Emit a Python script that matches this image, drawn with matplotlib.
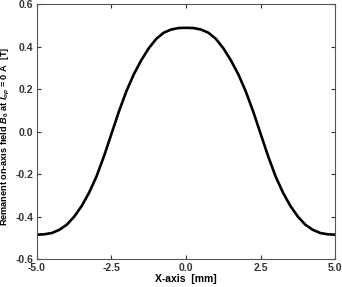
import numpy as np
import matplotlib.pyplot as plt

plt.rcParams['font.family'] = 'Liberation Sans'
plt.rcParams['mathtext.fontset'] = 'custom'
plt.rcParams['mathtext.rm'] = 'Liberation Sans:bold'
plt.rcParams['mathtext.it'] = 'Liberation Sans:bold:italic'
plt.rcParams['mathtext.bf'] = 'Liberation Sans:bold'

# half profile, x from -5 to 0 mm (curve is symmetric)
x_half = [-5.0, -4.75, -4.5, -4.25, -4.0, -3.75, -3.5, -3.25, -3.0, -2.75,
          -2.5, -2.25, -2.0, -1.75, -1.5, -1.25, -1.0, -0.75, -0.5, -0.25, 0.0]
b_half = [-0.485, -0.483, -0.477, -0.462, -0.438, -0.400, -0.350, -0.287, -0.210, -0.115,
          -0.010, 0.095, 0.190, 0.270, 0.336, 0.392, 0.436, 0.465, 0.480, 0.487, 0.488]

x = np.array(x_half + [-v for v in x_half[-2::-1]])
b0 = np.array(b_half + b_half[-2::-1])

xticks = [-5.0, -2.5, 0.0, 2.5, 5.0]
yticks = [-0.6, -0.4, -0.2, 0.0, 0.2, 0.4, 0.6]

fig = plt.figure(figsize=(3.42, 2.87), dpi=100)
ax = fig.add_axes([0.108, 0.097, 0.872, 0.889])
ax.plot(x, b0, color='black', lw=1.9, solid_joinstyle='round')

ax.set_xlim(-5, 5)
ax.set_ylim(-0.6, 0.6)
ax.set_xticks(xticks)
ax.set_yticks(yticks)
ax.set_xticklabels(['%.1f' % v for v in xticks])
ax.set_yticklabels(['%.1f' % v for v in yticks])
ax.tick_params(direction='in', top=True, right=True, length=3, width=0.8,
               labelsize=7.5, colors='#333333', pad=2.5)
for lab in ax.get_xticklabels() + ax.get_yticklabels():
    lab.set_fontweight('bold')
for s in ax.spines.values():
    s.set_color('#555555')
    s.set_linewidth(0.8)

ax.set_xlabel('X-axis  [mm]', fontsize=7.5, fontweight='bold', labelpad=1)
ax.set_ylabel(r'Remanent on-axis field $B_0$ at $I_{op}$ = 0 A  [T]',
              fontsize=6.6, fontweight='bold')
ax.yaxis.set_label_coords(-0.085, 0.48)

fig.savefig('out.png', dpi=100)
